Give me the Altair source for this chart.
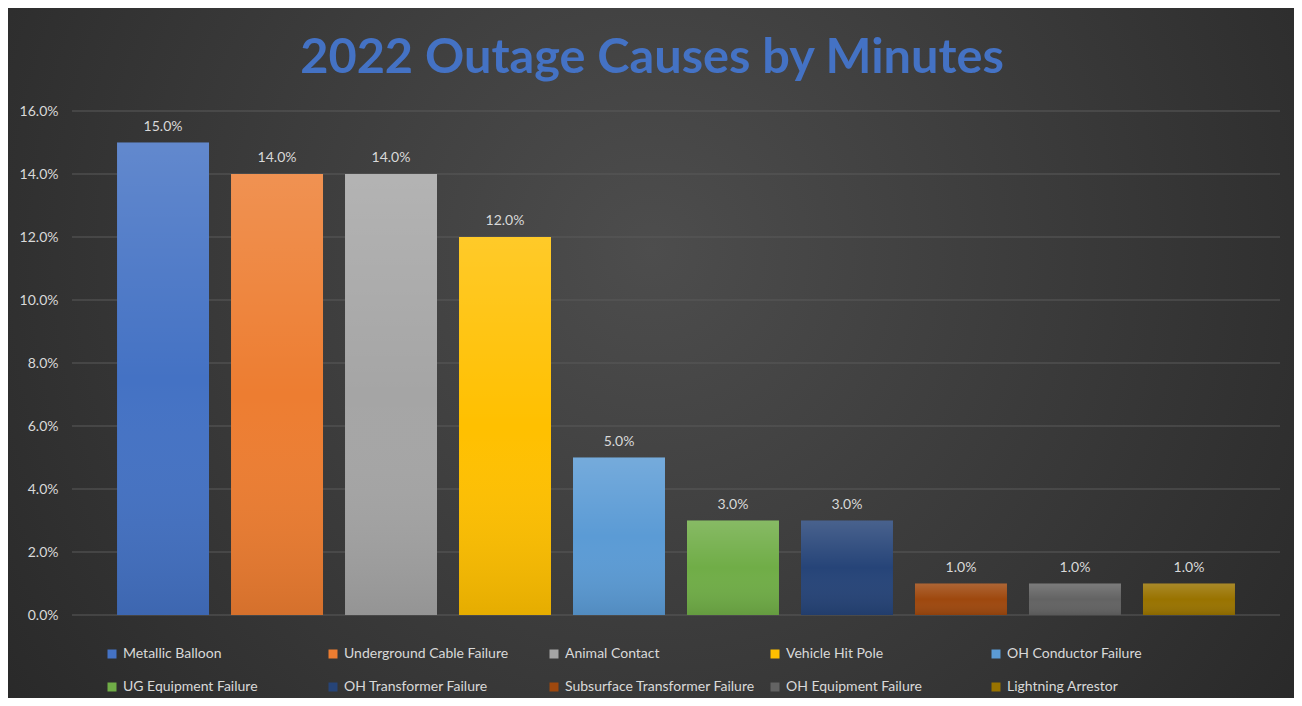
import altair as alt
import pandas as pd

causes = [
    "Metallic Balloon", "Underground Cable Failure", "Animal Contact",
    "Vehicle Hit Pole", "OH Conductor Failure", "UG Equipment Failure",
    "OH Transformer Failure", "Subsurface Transformer Failure",
    "OH Equipment Failure", "Lightning Arrestor",
]
shares = [0.15, 0.14, 0.14, 0.12, 0.05, 0.03, 0.03, 0.01, 0.01, 0.01]
colors = ["#4472C4", "#ED7D31", "#A5A5A5", "#FFC000", "#5B9BD5",
          "#70AD47", "#264478", "#9E480E", "#636363", "#997300"]
tick_values = [0.0, 0.02, 0.04, 0.06, 0.08, 0.10, 0.12, 0.14, 0.16]
title_text = "2022 Outage Causes by Minutes"

W, H = 1208, 504
PL, PT, PR, PB = 64, 103, 14, 83
FONT = "Lato"
TXT = "#d9d9d9"

df = pd.DataFrame({"cause": causes, "share": shares})
grid_df = pd.DataFrame({"v": tick_values})
bg_df = pd.DataFrame({"a": [0]})

yaxis = alt.Axis(values=tick_values, format=".1%", labelColor=TXT, labelFont=FONT,
                 labelFontSize=14, labelPadding=14, domain=False, ticks=False,
                 grid=False, title=None, zindex=1)
yscale = alt.Scale(domain=[0, 0.16], nice=False)
xenc = alt.X("cause:N", sort=causes, axis=None,
             scale=alt.Scale(paddingInner=0.193, paddingOuter=0.395))

background = alt.Chart(bg_df).mark_rect(
    fill={"gradient": "radial", "x1": 0.5, "y1": 0.42, "r1": 0,
          "x2": 0.5, "y2": 0.42, "r2": 0.72,
          "stops": [{"offset": 0, "color": "#4d4d4d"},
                    {"offset": 1, "color": "#232323"}]}
).encode(x=alt.value(-PL), x2=alt.value(W + PR), y=alt.value(-PT), y2=alt.value(H + PB))

grid = alt.Chart(grid_df).mark_rule(color="#5b5b5b", strokeWidth=1).encode(
    y=alt.Y("v:Q", scale=yscale, axis=yaxis)
)

bars = alt.Chart(df).mark_bar().encode(
    x=xenc,
    y=alt.Y("share:Q", scale=yscale, axis=yaxis),
    color=alt.Color("cause:N", sort=causes,
                    scale=alt.Scale(domain=causes, range=colors),
                    legend=alt.Legend(orient="none", legendX=33, legendY=536,
                                      direction="horizontal", columns=5,
                                      symbolType="square", symbolSize=81,
                                      symbolStrokeWidth=0, labelColor=TXT,
                                      labelFont=FONT, labelFontSize=14,
                                      labelLimit=400, labelOffset=4,
                                      gridAlign="all", columnPadding=13,
                                      rowPadding=19, title=None, padding=0)),
)

overlay = alt.Chart(df).mark_bar(
    fill={"gradient": "linear", "x1": 0, "y1": 0, "x2": 0, "y2": 1,
          "stops": [{"offset": 0, "color": "rgba(255,255,255,0.16)"},
                    {"offset": 0.5, "color": "rgba(255,255,255,0.0)"},
                    {"offset": 1, "color": "rgba(0,0,0,0.10)"}]}
).encode(x=xenc, y=alt.Y("share:Q", scale=yscale, axis=yaxis))

labels = alt.Chart(df).mark_text(
    baseline="bottom", dy=-9, color=TXT, font=FONT, fontSize=14
).encode(x=xenc, y=alt.Y("share:Q", scale=yscale, axis=yaxis),
         text=alt.Text("share:Q", format=".1%"))

chart = alt.layer(background, grid, bars, overlay, labels).properties(
    width=W, height=H,
    title=alt.TitleParams(title_text, color="#4472C4", font=FONT, fontSize=48.7,
                          fontWeight="bold", anchor="middle", dx=-24, dy=106,
                          offset=30),
    padding={"left": PL, "top": PT, "right": PR, "bottom": PB},
    autosize=alt.AutoSizeParams(type="none"),
    background="#2a2a2a",
).configure_view(stroke=None)

chart.save("out.html", embed_options={"renderer": "svg", "actions": False})
